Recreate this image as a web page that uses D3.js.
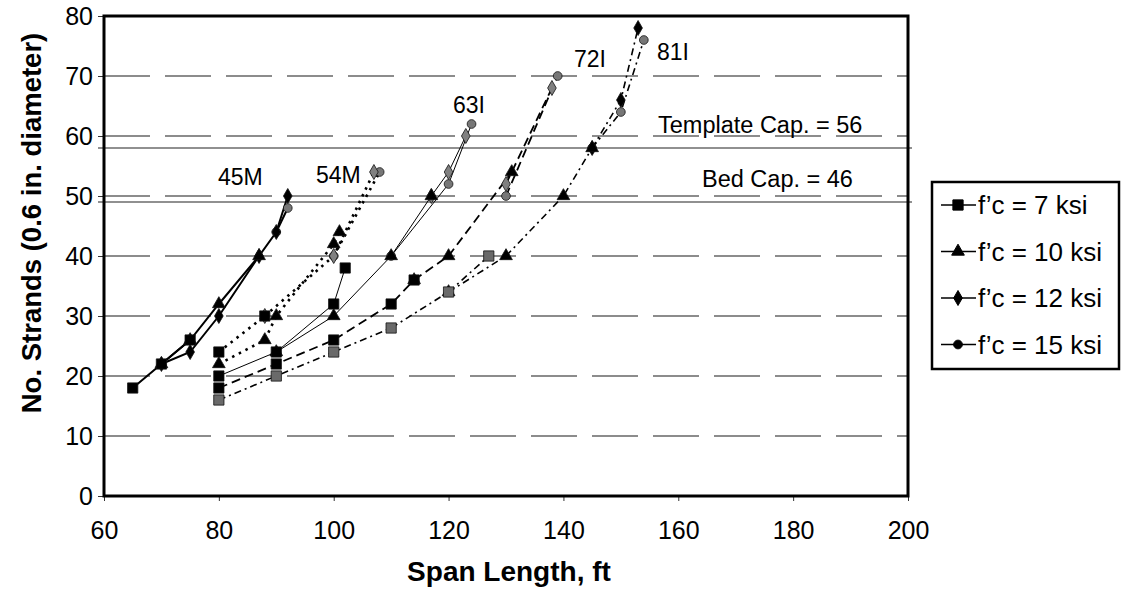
<!DOCTYPE html>
<html><head><meta charset="utf-8">
<script src="https://cdn.jsdelivr.net/npm/d3@7"></script>
<style>
body{margin:0;background:#fff}
text{font-family:Arial,"Liberation Sans",Helvetica,sans-serif;fill:#000}
</style>
</head><body>
<svg id="c" width="1125" height="603"></svg>
<script>
// ---------- data ----------
const xTicks = [60, 80, 100, 120, 140, 160, 180, 200];
const yTicks = [0, 10, 20, 30, 40, 50, 60, 70, 80];
const gridValues = [10, 20, 30, 40, 50, 60, 70];
const strengths = ["f\u2019c = 7 ksi", "f\u2019c = 10 ksi", "f\u2019c = 12 ksi", "f\u2019c = 15 ksi"];
const girders = ["45M", "54M", "63I", "72I", "81I"];
const capLabels = ["Template Cap. = 56", "Bed Cap. = 46"];
const capValues = [58, 49];

// [span ft, strands]
const s45M_7  = [[65,18],[70,22],[75,26]];
const s45M_10 = [[70,22],[75,26],[80,32],[87,40]];
const s45M_12 = [[70,22],[75,24],[80,30],[87,40],[90,44],[92,50]];
const s45M_15 = [[90,44],[92,48]];

const s54M_7  = [[80,24],[88,30]];
const s54M_10 = [[80,22],[88,26],[90,30],[100,42],[101,44]];
const s54M_12 = [[88,30],[100,40],[107,54]];
const s54M_15 = [[100,40],[108,54]];

const s63I_7  = [[80,20],[90,24],[100,32],[102,38]];
const s63I_10 = [[90,24],[100,30],[110,40],[117,50]];
const s63I_12 = [[117,50],[120,54],[123,60]];
const s63I_15 = [[110,40],[120,52],[124,62]];

const s72I_7  = [[80,18],[90,22],[100,26],[110,32],[114,36]];
const s72I_10 = [[114,36],[120,40],[131,54]];
const s72I_12 = [[130,52],[138,68]];
const s72I_15 = [[130,50],[139,70]];

const s81I_7  = [[80,16],[90,20],[100,24],[110,28],[120,34],[127,40]];
const s81I_10 = [[120,34],[130,40],[140,50],[145,58]];
const s81I_12 = [[145,58],[150,66],[153,78]];
const s81I_15 = [[145,58],[150,64],[154,76]];

const seriesByGirder = [
  [s45M_7, s45M_10, s45M_12, s45M_15],
  [s54M_7, s54M_10, s54M_12, s54M_15],
  [s63I_7, s63I_10, s63I_12, s63I_15],
  [s72I_7, s72I_10, s72I_12, s72I_15],
  [s81I_7, s81I_10, s81I_12, s81I_15]
];

// ---------- drawing ----------
const svg = d3.select("#c");
const L = 104, R = 908, T = 16, B = 496;
const x = d3.scaleLinear().domain([60, 200]).range([L, R]);
const y = d3.scaleLinear().domain([0, 80]).range([B, T]);

// gridlines (long dashes)
svg.append("g").selectAll("line").data(gridValues).join("line")
  .attr("x1", L).attr("x2", R)
  .attr("y1", d => y(d)).attr("y2", d => y(d))
  .attr("stroke", "#1a1a1a").attr("stroke-width", 1.2)
  .attr("stroke-dasharray", "46,15");

// capacity lines
svg.append("g").selectAll("line").data(capValues).join("line")
  .attr("x1", L - 6).attr("x2", R + 4)
  .attr("y1", d => y(d)).attr("y2", d => y(d))
  .attr("stroke", "#222").attr("stroke-width", 1.2);

// axes
const fontTick = 25;
const yAxis = svg.append("g").attr("transform", `translate(${L},0)`)
  .call(d3.axisLeft(y).tickValues(yTicks).tickSize(6).tickPadding(5).tickFormat(d3.format("d")));
const xAxis = svg.append("g").attr("transform", `translate(0,${B})`)
  .call(d3.axisBottom(x).tickValues(xTicks).tickSize(5).tickPadding(20).tickFormat(d3.format("d")));
[yAxis, xAxis].forEach(a => {
  a.select(".domain").remove();
  a.selectAll(".tick line").attr("stroke", "#333").attr("stroke-width", 1);
  a.selectAll(".tick text").style("font-size", fontTick + "px")
    .style("font-family", "Arial, 'Liberation Sans', sans-serif").attr("fill", "#000");
});

// frame
svg.append("rect").attr("x", L).attr("y", T).attr("width", R - L).attr("height", B - T)
  .attr("fill", "none").attr("stroke", "#000").attr("stroke-width", 3);

// line styles per girder
const lineStyles = [
  {w: 2.0, dash: null},
  {w: 2.6, dash: "2.5,5"},
  {w: 1.0, dash: null},
  {w: 1.8, dash: "9,5"},
  {w: 1.6, dash: "7,4,2,4"}
];
const symbols = [d3.symbolSquare, d3.symbolTriangle, d3.symbolDiamond, d3.symbolCircle];
const symSizes = [105, 70, 65, 60];
const line = d3.line().x(d => x(d[0])).y(d => y(d[1]));

function markerFill(gi, si) {
  if (si === 3) return "#777";
  if (si === 0 && gi === 4) return "#6a6a6a";
  if (si === 2 && (gi === 1 || gi === 2 || gi === 3)) return "#808080";
  return "#000";
}

const gSeries = svg.append("g");
seriesByGirder.forEach((ser, gi) => {
  ser.forEach((pts) => {
    gSeries.append("path").datum(pts)
      .attr("d", line).attr("fill", "none")
      .attr("stroke", "#000").attr("stroke-width", lineStyles[gi].w)
      .attr("stroke-dasharray", lineStyles[gi].dash);
  });
});
const gMarks = svg.append("g");
seriesByGirder.forEach((ser, gi) => {
  [3, 2, 1, 0].forEach(si => {
    gMarks.append("g").selectAll("path").data(ser[si]).join("path")
      .attr("transform", d => `translate(${x(d[0])},${y(d[1])})`)
      .attr("d", d3.symbol().type(symbols[si]).size(symSizes[si]))
      .attr("fill", markerFill(gi, si))
      .attr("stroke", "#111").attr("stroke-width", 0.8);
  });
});

// girder labels
const fontAnn = 23;
const girderLabelPos = [[218,185],[316,183],[453,113],[574,67],[657,60]];
svg.append("g").selectAll("text").data(girders).join("text")
  .attr("x", (d, i) => girderLabelPos[i][0]).attr("y", (d, i) => girderLabelPos[i][1])
  .style("font-size", fontAnn + "px").text(d => d);

// cap labels
const capLabelPos = [[658,133],[702,187]];
svg.append("g").selectAll("text").data(capLabels).join("text")
  .attr("x", (d, i) => capLabelPos[i][0]).attr("y", (d, i) => capLabelPos[i][1])
  .style("font-size", "23.5px").text(d => d);

// axis titles
svg.append("text").attr("x", 509).attr("y", 581).attr("text-anchor", "middle")
  .style("font-size", "28px").style("font-weight", "bold").text("Span Length, ft");
svg.append("text").attr("transform", "translate(41,223) rotate(-90)").attr("text-anchor", "middle")
  .style("font-size", "27.5px").style("font-weight", "bold").text("No. Strands (0.6 in. diameter)");

// legend
const lg = svg.append("g");
const lgX = 932, lgY = 182, lgW = 187, lgH = 187, lgStep = 46.5;
lg.append("rect").attr("x", lgX).attr("y", lgY).attr("width", lgW).attr("height", lgH)
  .attr("fill", "#fff").attr("stroke", "#000").attr("stroke-width", 2.5);
strengths.forEach((s, i) => {
  const cy = lgY + 23 + i * lgStep;
  lg.append("line").attr("x1", lgX + 9).attr("x2", lgX + 44).attr("y1", cy).attr("y2", cy)
    .attr("stroke", "#000").attr("stroke-width", 1.6);
  lg.append("path").attr("transform", `translate(${lgX + 26},${cy})`)
    .attr("d", d3.symbol().type(symbols[i]).size(symSizes[i]))
    .attr("fill", "#000").attr("stroke", "#000");
  lg.append("text").attr("x", lgX + 46).attr("y", cy + 9)
    .style("font-size", "26px").text(s);
});
</script>
</body></html>
